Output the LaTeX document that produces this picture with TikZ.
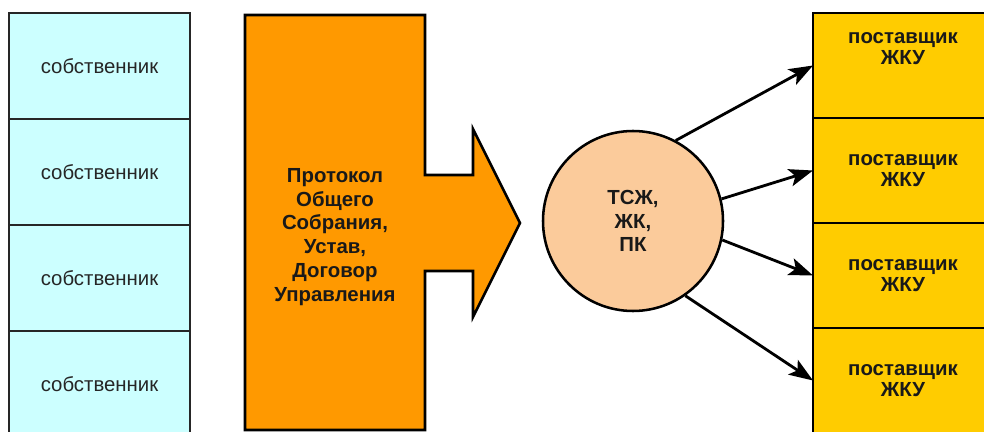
\documentclass[tikz,border=0pt]{standalone}
\usepackage{fontspec}
\setmainfont{Liberation Sans}
\usetikzlibrary{positioning,arrows.meta}
\definecolor{ownercyan}{HTML}{CCFFFF}
\definecolor{docorange}{HTML}{FF9900}
\definecolor{orgpeach}{HTML}{FBCB9B}
\definecolor{supplieryellow}{HTML}{FFCC00}
\tikzset{
  owner/.style={draw=black!85, line width=1.3pt, fill=ownercyan, minimum width=4.525cm, minimum height=2.65cm, outer sep=0pt, inner sep=0pt, text=black!85, font=\fontsize{14.5}{17}\selectfont},
  protocol/.style={align=center, text=black!90, font=\bfseries\fontsize{14.5}{17}\selectfont},
  org/.style={circle, draw=black, line width=1.8pt, fill=orgpeach, minimum size=4.5cm, align=center, text=black!90, font=\bfseries\fontsize{14.5}{16.5}\selectfont},
  supplier/.style={draw=black, line width=1.8pt, fill=supplieryellow, minimum width=4.5cm, minimum height=2.625cm, outer sep=0pt, align=center, text=black!90, font=\bfseries\fontsize{14.5}{15}\selectfont},
  link/.style={line width=2pt, -{Stealth[length=6mm,width=4.4mm,inset=1.4mm]}}
}

\begin{document}
\begin{tikzpicture}
\clip (0,0) rectangle (24.6,-10.8);

% owners
\node[owner] (owner1) at (2.4875,-1.65) {собственник};
\node[owner, below=0pt of owner1] (owner2) {собственник};
\node[owner, below=0pt of owner2] (owner3) {собственник};
\node[owner, below=0pt of owner3] (owner4) {собственник};

% documents block with its arrow
\draw[fill=docorange, line width=1.8pt, line join=miter]
  (6.125,-0.375) -- (10.625,-0.375) -- (10.625,-4.375) -- (11.825,-4.375)
  -- (11.825,-3.225) -- (13,-5.575) -- (11.825,-7.925) -- (11.825,-6.775)
  -- (10.625,-6.775) -- (10.625,-10.75) -- (6.125,-10.75) -- cycle;
\node[protocol] (protocol) at (8.375,-5.925) {Протокол\\Общего\\Собрания,\\Устав,\\Договор\\Управления};

% management body
\node[org] (org) at (15.825,-5.525) {ТСЖ,\\ЖК,\\ПК};

% suppliers
\node[supplier] (supplier1) at (22.575,-1.6375) {поставщик\\ЖКУ\\[9pt]\mbox{}};
\node[supplier, below=0pt of supplier1] (supplier2) {поставщик\\ЖКУ};
\node[supplier, below=0pt of supplier2] (supplier3) {поставщик\\ЖКУ};
\node[supplier, below=0pt of supplier3] (supplier4) {поставщик\\ЖКУ};

\draw[link] (org.62) -- (supplier1.west);
\draw[link] (org.14) -- (supplier2.west);
\draw[link] (org.-12) -- (supplier3.west);
\draw[link] (org.-55) -- (supplier4.west);
\end{tikzpicture}
\end{document}
